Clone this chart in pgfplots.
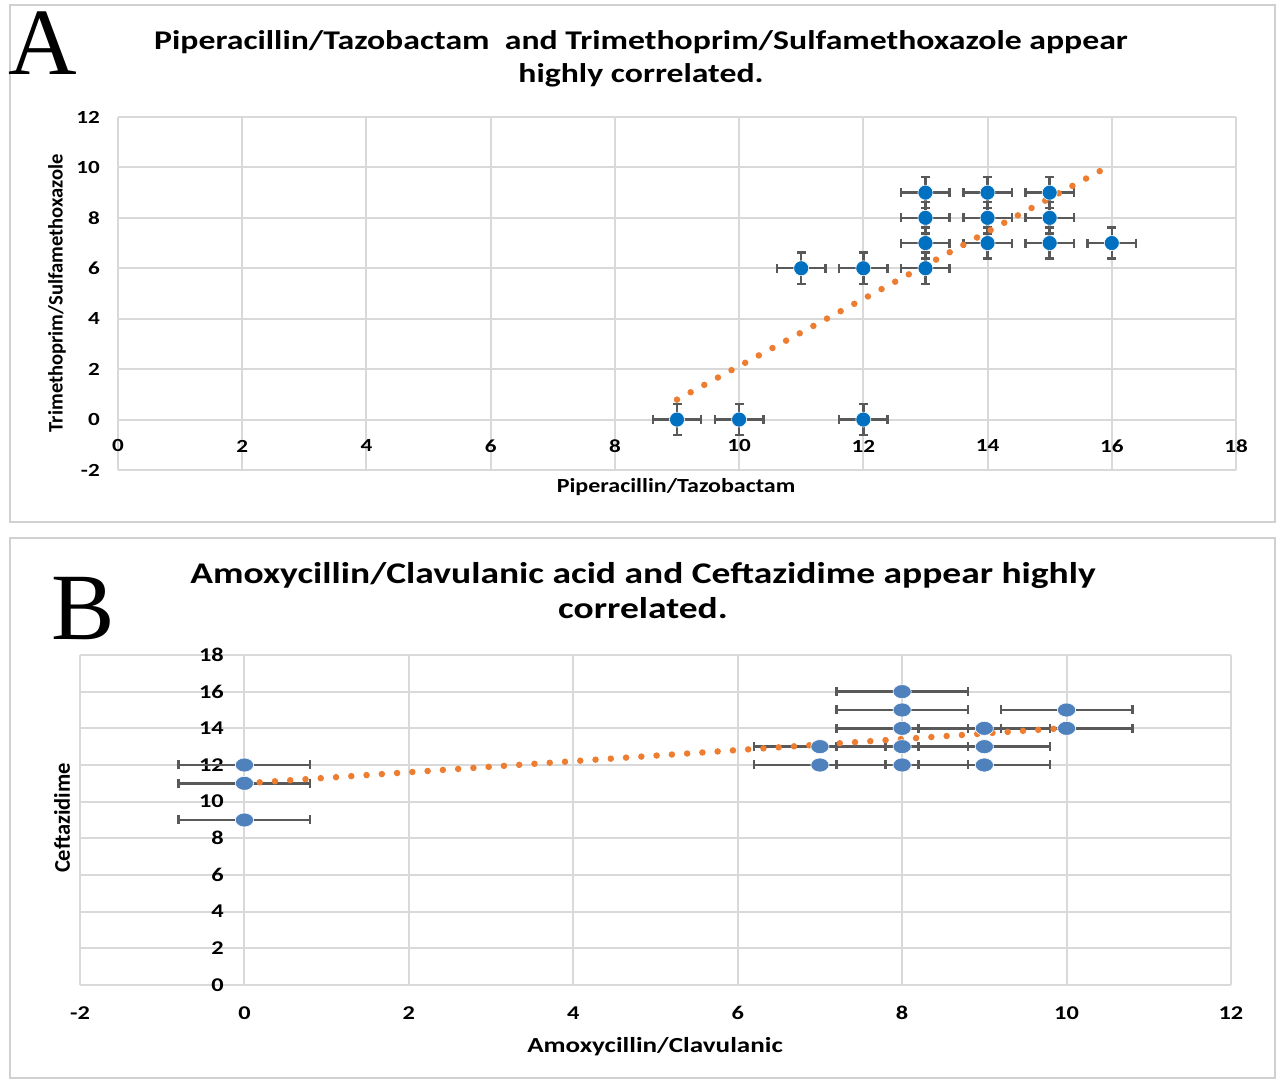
\documentclass[border=0pt]{standalone}
\usepackage{fontspec}
\setmainfont{Carlito}
\newfontfamily\letterfont{Liberation Serif}
\usepackage{pgfplots}
\pgfplotsset{compat=1.18}

\definecolor{ablue}{HTML}{0070C0}
\definecolor{bblue}{HTML}{4F81BD}
\definecolor{trend}{HTML}{ED7D31}
\definecolor{gridgray}{HTML}{D9D9D9}
\definecolor{boxgray}{HTML}{D0D0D0}
\definecolor{errgray}{HTML}{595959}

% Excel-like look: grid only, no axis lines or tick marks
\pgfplotsset{
  excel/.style={
    scale only axis,
    anchor=south west,
    axis line style={draw=none},
    major tick length=0pt,
    grid=major,
    grid style={gridgray, line width=2pt},
    xtick distance=2, ytick distance=2,
    /pgf/number format/assume math mode=true,
  },
}
\newcommand{\bigletter}[1]{\fontsize{95}{95}\selectfont\letterfont #1}

\begin{document}
\begin{tikzpicture}[x=1pt,y=1pt]
\useasboundingbox (0,0) rectangle (1280,1081);
\fill[white] (0,0) rectangle (1280,1081);
\draw[boxgray, line width=2pt] (10,559) rectangle (1275,1076);
\draw[boxgray, line width=2pt] (10,3) rectangle (1275,543);

% panel letters
\node[anchor=base] at (43,1006) {\bigletter{A}};
\node[anchor=base] at (83,441) {\bigletter{B}};

% titles
\node[anchor=base, xscale=1.25] at (641,1031) {\fontsize{27}{27}\selectfont\bfseries Piperacillin/Tazobactam\ \ and Trimethoprim/Sulfamethoxazole appear};
\node[anchor=base, xscale=1.25] at (641,998) {\fontsize{27}{27}\selectfont\bfseries highly correlated.};
\node[anchor=base, xscale=1.25] at (643,497) {\fontsize{30}{30}\selectfont\bfseries Amoxycillin/Clavulanic acid and Ceftazidime appear highly};
\node[anchor=base, xscale=1.25] at (643,462) {\fontsize{30}{30}\selectfont\bfseries correlated.};

% panel A
\begin{axis}[excel,
  at={(118pt,611pt)}, width=1118pt, height=353pt,
  xmin=0, xmax=18, ymin=-2, ymax=12,
  ticklabel style={font=\fontsize{18.5}{18.5}\selectfont\bfseries, xscale=1.25},
  xticklabel style={anchor=center, yshift=24pt},
  yticklabel style={anchor=east, inner sep=0pt, xshift=-14.4pt},
]
  \addplot[only marks, mark=*, mark size=7.5pt,
    mark options={fill=ablue, draw=white, line width=0.6pt},
    error bars/.cd, x dir=both, x fixed=0.39, y dir=both, y fixed=0.62,
    error bar style={errgray, line width=2.4pt},
    error mark options={errgray, line width=2.4pt, mark size=4.5pt, rotate=90}]
    coordinates {
      (9,0) (10,0) (12,0)
      (11,6) (12,6) (13,6)
      (13,7) (13,8) (13,9)
      (14,7) (14,8) (14,9)
      (15,7) (15,8) (15,9)
      (16,7)
    };
  \addplot[trend, line width=6.5pt, line cap=round, dash pattern=on 0pt off 15.5pt]
    coordinates {(9,0.79) (15.82,9.87)};
\end{axis}
\node[xscale=1.2] at (676,594) {\fontsize{20}{20}\selectfont\bfseries Piperacillin/Tazobactam};
\node[rotate=90] at (57,788) {\fontsize{20.6}{20.6}\selectfont\bfseries Trimethoprim/Sulfamethoxazole};

% panel B
\begin{axis}[excel,
  at={(80pt,96pt)}, width=1151pt, height=330pt,
  xmin=-2, xmax=12, ymin=0, ymax=18,
  ticklabel style={font=\fontsize{19.5}{19.5}\selectfont\bfseries, xscale=1.25},
  xticklabel style={anchor=center, yshift=-28pt},
  yticklabel style={anchor=east, inner sep=0pt, xshift=115.2pt},
]
  \addplot[only marks, mark=*, mark size=7pt,
    mark options={fill=bblue, draw=white, line width=0.6pt, xscale=1.3},
    error bars/.cd, x dir=both, x fixed=0.8,
    error bar style={errgray, line width=2.4pt},
    error mark options={errgray, line width=2.4pt, mark size=4.5pt, rotate=90}]
    coordinates {
      (0,12) (0,11) (0,9)
      (7,13) (7,12)
      (8,16) (8,15) (8,14) (8,13) (8,12)
      (9,14) (9,13) (9,12)
      (10,15) (10,14)
    };
  \addplot[trend, line width=6.5pt, line cap=round, dash pattern=on 0pt off 15.3pt]
    coordinates {(0,11) (9.93,14.0)};
\end{axis}
\node[xscale=1.26] at (655,34) {\fontsize{21.5}{21.5}\selectfont\bfseries Amoxycillin/Clavulanic};
\node[rotate=90] at (62,263) {\fontsize{22.5}{22.5}\selectfont\bfseries Ceftazidime};
\end{tikzpicture}
\end{document}
